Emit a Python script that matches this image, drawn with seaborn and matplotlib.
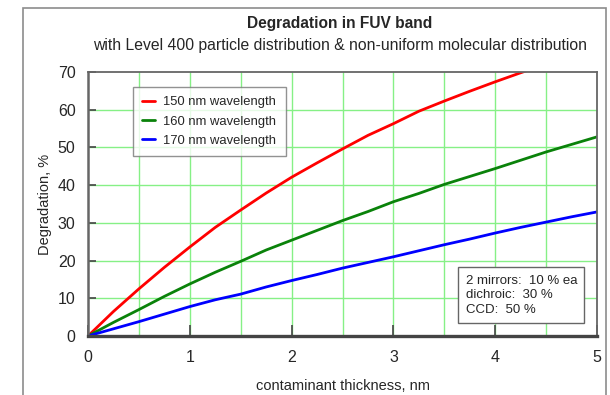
import matplotlib
matplotlib.use("Agg")
import matplotlib.pyplot as plt
import seaborn as sns
import pandas as pd
from matplotlib.patches import Rectangle

# contaminant thickness (nm)
thickness = [0, 0.25, 0.5, 0.75, 1.0, 1.25, 1.5, 1.75, 2.0, 2.25, 2.5,
             2.75, 3.0, 3.25, 3.5, 3.75, 4.0, 4.25, 4.5, 4.75, 5.0]

# degradation (%) per wavelength
deg_150 = [0, 6.5, 12.5, 18.2, 23.6, 28.8, 33.4, 37.9, 42.1, 45.9, 49.6,
           53.2, 56.3, 59.6, 62.3, 64.9, 67.4, 69.8, 72.1, 74.3, 76.4]
deg_160 = [0, 3.6, 7.0, 10.5, 13.8, 16.9, 19.8, 22.8, 25.4, 28.0, 30.6,
           33.0, 35.6, 37.8, 40.2, 42.3, 44.4, 46.6, 48.8, 50.8, 52.8]
deg_170 = [0, 1.9, 3.8, 5.8, 7.8, 9.6, 11.1, 13.0, 14.7, 16.3, 18.0,
           19.5, 21.0, 22.6, 24.2, 25.7, 27.3, 28.8, 30.2, 31.6, 32.9]

series_names = ["150 nm wavelength", "160 nm wavelength", "170 nm wavelength"]
series_colors = ["#ff0000", "#0a820a", "#0000ff"]

x_ticks = [0, 1, 2, 3, 4, 5]
y_ticks = [0, 10, 20, 30, 40, 50, 60, 70]

title = "Degradation in FUV band"
subtitle = "with Level 400 particle distribution & non-uniform molecular distribution"
note = "2 mirrors:  10 % ea\ndichroic:  30 %\nCCD:  50 %"

df = pd.concat([
    pd.DataFrame({"thickness": thickness, "degradation": vals, "series": name})
    for name, vals in zip(series_names, [deg_150, deg_160, deg_170])
])

sns.set_theme(style="white")
plt.rcParams["font.family"] = ["Liberation Sans", "DejaVu Sans"]

fig = plt.figure(figsize=(6.10, 3.95), dpi=100)
ax = fig.add_axes([0.1443, 0.1494, 0.8344, 0.6683])

# outer frame around the whole chart
fig.patches.append(Rectangle((23 / 610, -0.05), 583 / 610, 1.05 - 8 / 395,
                             transform=fig.transFigure, fill=False,
                             edgecolor="#8c8c8c", linewidth=1.2))

sns.lineplot(data=df, x="thickness", y="degradation", hue="series",
             palette=series_colors, linewidth=2.0, ax=ax, legend=True,
             estimator=None, sort=True)

ax.set_xlim(0, 5)
ax.set_ylim(0, 70)

# grid every 0.5 nm and every 10 %
for i in range(1, 10):
    ax.axvline(i * 0.5, color="#86f086", linewidth=1.0, zorder=0)
for v in y_ticks[1:-1]:
    ax.axhline(v, color="#86f086", linewidth=1.0, zorder=0)

ax.set_xticks(x_ticks)
ax.set_yticks(y_ticks)
ax.set_xticklabels([str(t) for t in x_ticks])
ax.set_yticklabels([str(t) for t in y_ticks])
ax.tick_params(axis="x", which="major", direction="in", length=8, width=1.2,
               color="#444444", labelsize=11.5, pad=10, bottom=True)
ax.tick_params(axis="y", which="major", direction="in", length=6, width=1.2,
               color="#444444", labelsize=11.5, pad=9, left=True)

for side in ["top", "right"]:
    ax.spines[side].set_color("#666666")
    ax.spines[side].set_linewidth(1.3)
ax.spines["left"].set_color("#666666")
ax.spines["left"].set_linewidth(1.8)
ax.spines["bottom"].set_color("#444444")
ax.spines["bottom"].set_linewidth(2.4)

ax.set_xlabel("contaminant thickness, nm", fontsize=10.5, labelpad=10)
ax.set_ylabel("Degradation, %", fontsize=10.5, labelpad=4)

fig.text(0.557, 0.94, title, ha="center", va="center",
         fontsize=11.2, fontweight="bold")
fig.text(0.557, 0.884, subtitle, ha="center", va="center", fontsize=11.3)

leg = ax.legend(loc="upper left", bbox_to_anchor=(0.088, 0.943),
                borderaxespad=0, frameon=True, fancybox=False,
                fontsize=9.4, handlelength=1.0, handletextpad=0.65,
                labelspacing=0.55, borderpad=0.7)
leg.get_frame().set_edgecolor("#777777")
leg.get_frame().set_linewidth(1.0)
for line in leg.get_lines():
    line.set_linewidth(2.0)

ax.text(0.742, 0.232, note, transform=ax.transAxes, ha="left", va="top",
        fontsize=9.5, linespacing=1.3,
        bbox=dict(boxstyle="square,pad=0.55", facecolor="white",
                  edgecolor="#666666", linewidth=1.0))

fig.savefig("out.png", dpi=100)
